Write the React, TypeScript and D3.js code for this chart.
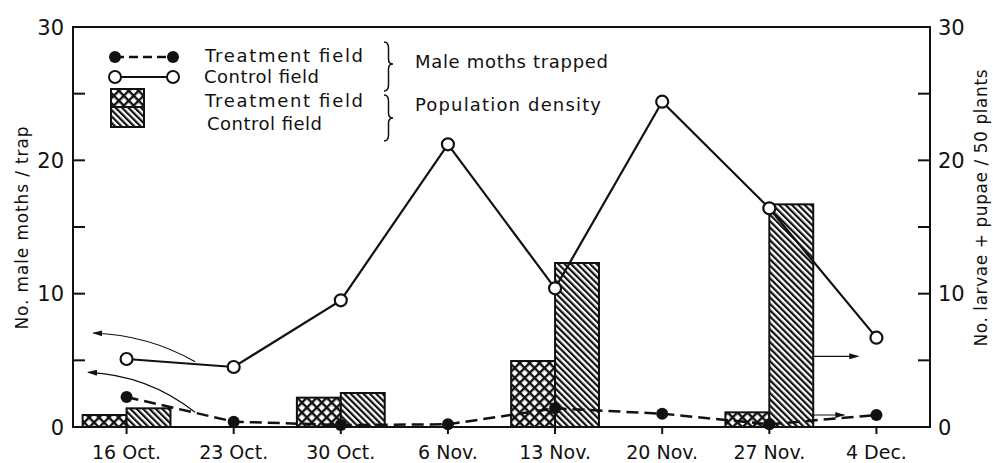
import React from "react";
import * as d3 from "d3";

const dates = ["16 Oct.", "23 Oct.", "30 Oct.", "6 Nov.", "13 Nov.", "20 Nov.", "27 Nov.", "4 Dec."];
const mothsTreatment = [2.25, 0.4, 0.15, 0.2, 1.4, 1.0, 0.2, 0.9];
const mothsControl = [5.1, 4.5, 9.5, 21.2, 10.4, 24.4, 16.4, 6.7];
// population density, only on some dates (null = no bar)
const densTreatment: (number | null)[] = [0.9, null, 2.2, null, 4.95, null, 1.1, null];
const densControl: (number | null)[] = [1.4, null, 2.55, null, 12.3, null, 16.7, null];
const leftTicks = [0, 10, 20, 30];
const minorTicks = [0, 5, 10, 15, 20, 25, 30];

// annotation arrows, in (category index, value) units
const arrows = [
  { from: [0.64, 4.9], ctrl: [0.2, 6.9], to: [-0.31, 7.05] },
  { from: [0.64, 1.1], ctrl: [0.2, 3.9], to: [-0.36, 4.1] },
  { from: [6.4, 5.3], ctrl: [6.6, 5.3], to: [6.83, 5.3] },
  { from: [6.4, 0.9], ctrl: [6.55, 0.9], to: [6.7, 0.9] },
];

const W = 993;
const H = 463;
const M = { top: 27, right: 63, bottom: 36, left: 73 };
const FONT = "DejaVu Sans, sans-serif";

export default function App() {
  const x0 = M.left;
  const x1 = W - M.right;
  const y0 = H - M.bottom;
  const y1 = M.top;

  const x = d3.scalePoint<string>().domain(dates).range([x0, x1]).padding(0.5);
  const step = x.step();
  const xi = d3.scaleLinear().domain([0, 1]).range([x(dates[0])!, x(dates[0])! + step]);
  const y = d3.scaleLinear().domain([0, 30]).range([y0, y1]);
  const barW = step * 0.41;

  const line = d3
    .line<number>()
    .x((_, i) => x(dates[i])!)
    .y((d) => y(d));

  const brace = (bx: number, top: number, bot: number, mid: number) => {
    const w = 4.5;
    return `M${bx},${top} Q${bx + w},${top} ${bx + w},${top + 6} L${bx + w},${mid - 5} Q${bx + w},${mid} ${bx + w * 2},${mid} Q${bx + w},${mid} ${bx + w},${mid + 5} L${bx + w},${bot - 6} Q${bx + w},${bot} ${bx},${bot}`;
  };

  return (
    <svg
      width={W}
      height={H}
      style={{ position: "absolute", left: 0, top: 0, background: "#fff" }}
      fontFamily={FONT}
    >
      <defs>
        <pattern id="ctrl" width="4.5" height="4.5" patternUnits="userSpaceOnUse" patternTransform="rotate(-45)">
          <rect width="4.5" height="4.5" fill="#fff" />
          <rect width="2.2" height="4.5" fill="#111" />
        </pattern>
        <pattern id="trt" width="7" height="7" patternUnits="userSpaceOnUse" patternTransform="rotate(45)">
          <rect width="7" height="7" fill="#fff" />
          <rect width="2.4" height="7" fill="#111" />
          <rect width="7" height="2.4" fill="#111" />
        </pattern>
        <marker id="ah" viewBox="0 0 10 6" refX="9" refY="3" markerWidth="10" markerHeight="6" markerUnits="userSpaceOnUse" orient="auto">
          <path d="M0,0 L10,3 L0,6 Z" fill="#111" />
        </marker>
      </defs>

      {/* bars */}
      {dates.map((d, i) => (
        <g key={d}>
          {densTreatment[i] != null && (
            <rect
              x={x(d)! - barW}
              y={y(densTreatment[i]!)}
              width={barW}
              height={y0 - y(densTreatment[i]!)}
              fill="url(#trt)"
              stroke="#111"
              strokeWidth={2}
            />
          )}
          {densControl[i] != null && (
            <rect
              x={x(d)!}
              y={y(densControl[i]!)}
              width={barW}
              height={y0 - y(densControl[i]!)}
              fill="url(#ctrl)"
              stroke="#111"
              strokeWidth={2}
            />
          )}
        </g>
      ))}

      {/* frame */}
      <path d={`M${x0},${y0} L${x0},${y1} L${x1},${y1} L${x1},${y0} Z`} fill="none" stroke="#111" strokeWidth={2} />
      {minorTicks.map((t) => (
        <g key={t}>
          <line x1={x0} x2={x0 + 12} y1={y(t)} y2={y(t)} stroke="#111" strokeWidth={2} />
          <line x1={x1} x2={x1 - 12} y1={y(t)} y2={y(t)} stroke="#111" strokeWidth={2} />
        </g>
      ))}
      {leftTicks.map((t) => (
        <g key={t} fontSize={21} fill="#111">
          <text x={x0 - 9} y={y(t)} dy="0.36em" textAnchor="end">{t}</text>
          <text x={x1 + 8} y={y(t)} dy="0.36em" textAnchor="start">{t}</text>
        </g>
      ))}
      {dates.map((d) => (
        <g key={d}>
          <line x1={x(d)} x2={x(d)} y1={y0} y2={y0 + 7} stroke="#111" strokeWidth={2} />
          <text x={x(d)} y={y0 + 32} textAnchor="middle" fontSize={19} fill="#111">{d}</text>
        </g>
      ))}

      {/* axis titles */}
      <text
        transform={`translate(28,228) rotate(-90)`}
        textAnchor="middle"
        fontSize={17}
        fill="#111"
        textLength={203}
        lengthAdjust="spacing"
      >
        No. male moths / trap
      </text>
      <text
        transform={`translate(987,208) rotate(-90)`}
        textAnchor="middle"
        fontSize={17}
        fill="#111"
        textLength={277}
        lengthAdjust="spacing"
      >
        No. larvae + pupae / 50 plants
      </text>

      {/* arrows */}
      {arrows.map((a, i) => (
        <path
          key={i}
          d={`M${xi(a.from[0])},${y(a.from[1])} Q${xi(a.ctrl[0])},${y(a.ctrl[1])} ${xi(a.to[0])},${y(a.to[1])}`}
          fill="none"
          stroke="#111"
          strokeWidth={1.2}
          markerEnd="url(#ah)"
        />
      ))}

      {/* lines */}
      <path d={line(mothsControl)!} fill="none" stroke="#111" strokeWidth={2.2} />
      <path d={line(mothsTreatment)!} fill="none" stroke="#111" strokeWidth={2.5} strokeDasharray="12 6" />
      {mothsControl.map((v, i) => (
        <circle key={"c" + i} cx={x(dates[i])} cy={y(v)} r={6} fill="#fff" stroke="#111" strokeWidth={2.2} />
      ))}
      {mothsTreatment.map((v, i) => (
        <circle key={"t" + i} cx={x(dates[i])} cy={y(v)} r={6} fill="#111" />
      ))}

      {/* legend */}
      <g fill="#111" fontSize={18}>
        <line x1={115} x2={173} y1={57} y2={57} stroke="#111" strokeWidth={2.5} strokeDasharray="9 5" />
        <circle cx={115} cy={57} r={6} />
        <circle cx={173} cy={57} r={6} />
        <line x1={115} x2={173} y1={77} y2={77} stroke="#111" strokeWidth={2} />
        <circle cx={115} cy={77} r={6} fill="#fff" stroke="#111" strokeWidth={2} />
        <circle cx={173} cy={77} r={6} fill="#fff" stroke="#111" strokeWidth={2} />
        <rect x={111} y={89} width={33} height={18} fill="url(#trt)" stroke="#111" strokeWidth={2} />
        <rect x={111} y={107} width={33} height={20} fill="url(#ctrl)" stroke="#111" strokeWidth={2} />
        <text x={205} y={62} textLength={158} lengthAdjust="spacing">Treatment field</text>
        <text x={204} y={83} textLength={115} lengthAdjust="spacing">Control field</text>
        <text x={205} y={107} textLength={158} lengthAdjust="spacing">Treatment field</text>
        <text x={207} y={130} textLength={115} lengthAdjust="spacing">Control field</text>
        <path d={brace(384, 42, 91, 64)} fill="none" stroke="#111" strokeWidth={1.5} />
        <path d={brace(384, 95, 141, 118)} fill="none" stroke="#111" strokeWidth={1.5} />
        <text x={415} y={68} textLength={193} lengthAdjust="spacing">Male moths trapped</text>
        <text x={415} y={111} textLength={186} lengthAdjust="spacing">Population density</text>
      </g>
    </svg>
  );
}
